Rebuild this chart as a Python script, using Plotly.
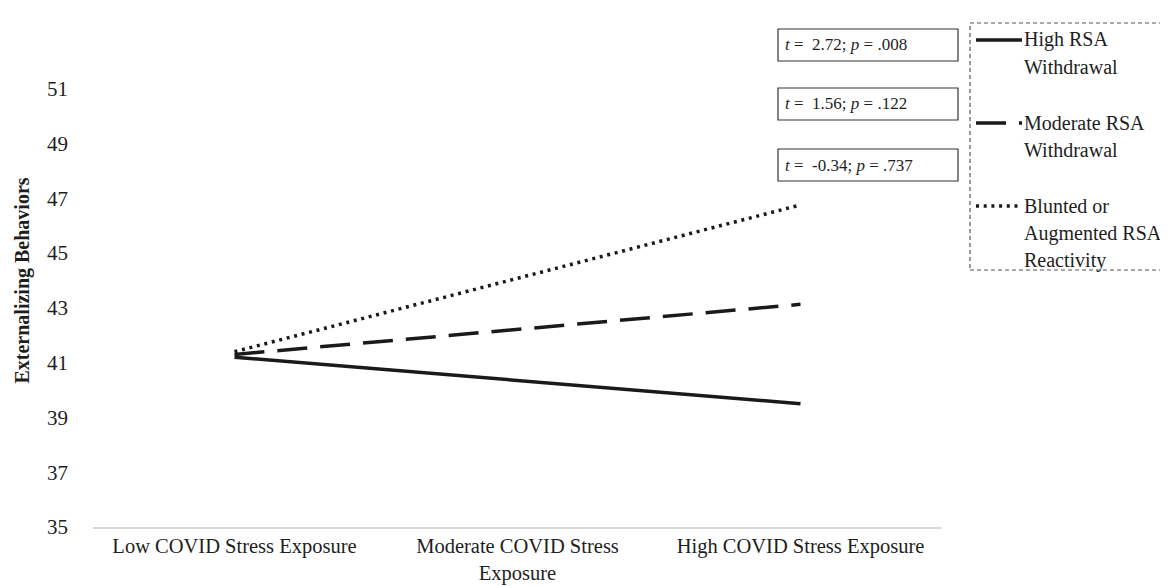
import plotly.graph_objects as go

categories = ["Low COVID Stress Exposure", "Moderate COVID Stress<br>Exposure", "High COVID Stress Exposure"]
series_names = ["High RSA Withdrawal", "Moderate RSA Withdrawal", "Blunted or Augmented RSA Reactivity"]
high_rsa = [41.2, 40.35, 39.5]
moderate_rsa = [41.3, 42.2, 43.13]
blunted_rsa = [41.4, 44.08, 46.76]
y_ticks = [35, 37, 39, 41, 43, 45, 47, 49, 51]
stat_labels = ["<i>t</i> =  2.72; <i>p</i> = .008",
               "<i>t</i> =  1.56; <i>p</i> = .122",
               "<i>t</i> =  -0.34; <i>p</i> = .737"]
legend_lines = [["High RSA", "Withdrawal"], ["Moderate RSA", "Withdrawal"],
                ["Blunted or", "Augmented RSA", "Reactivity"]]

W, H = 1168, 586
L, R, T, B = 85, 234, 26, 67
pw, ph = W - L - R, H - T - B
def px(x):
    return (x - L) / pw
def py(y):
    return (H - B - y) / ph

FONT = "Liberation Serif, Times New Roman, serif"
COL = "#1a1a1a"
TXT = "#1e1e1e"
styles = [dict(color=COL, width=3.5, dash="solid"),
          dict(color=COL, width=3.5, dash="30px,13px"),
          dict(color=COL, width=3.5, dash="3px,4.7px")]

fig = go.Figure()
xs = [0, 1, 2]
for name, vals, st in zip(series_names, [high_rsa, moderate_rsa, blunted_rsa], styles):
    fig.add_trace(go.Scatter(x=xs, y=vals, mode="lines", name=name, line=st, showlegend=False))

fig.update_layout(
    width=W, height=H,
    margin=dict(l=L, r=R, t=T, b=B, autoexpand=False),
    paper_bgcolor="white", plot_bgcolor="white",
    font=dict(family=FONT, size=21, color=TXT),
    xaxis=dict(range=[-0.5, 2.5], tickvals=xs, ticktext=categories, showgrid=False, automargin=False,
               zeroline=False, showline=True, linecolor="#d9d9d9", linewidth=1.5,
               ticks="", ticklabelstandoff=0, tickfont=dict(size=20.5, family=FONT, color=TXT)),
    yaxis=dict(range=[35, 53], tickvals=y_ticks, showgrid=False, zeroline=False, automargin=False,
               showline=False, ticks="", ticklabelstandoff=24,
               tickfont=dict(size=21, family=FONT, color=TXT),
               title=dict(text="<b>Externalizing Behaviors</b>", font=dict(size=20, family=FONT, color=TXT),
                          standoff=12)),
)

# stat boxes
box_c = [37, 96, 157]
for txt, c in zip(stat_labels, box_c):
    fig.add_shape(type="rect", xref="paper", yref="paper", x0=px(770), x1=px(950), y0=py(c + 16), y1=py(c - 16),
                  line=dict(color="#333", width=1.2), fillcolor="white")
    fig.add_annotation(xref="paper", yref="paper", x=px(775), y=py(c), xanchor="left", yanchor="middle",
                       text=txt, showarrow=False, font=dict(size=17, family=FONT, color=TXT))

# legend box
fig.add_shape(type="rect", xref="paper", yref="paper", x0=px(962), x1=px(1166), y0=py(262), y1=py(15),
              line=dict(color="#555", width=1.2, dash="4px,3px"), fillcolor="rgba(0,0,0,0)")
sample_y = [32, 115, 198]
leg_dash = ["solid", "30px,13px", "3px,4.7px"]
for lines, sy, d in zip(legend_lines, sample_y, leg_dash):
    fig.add_shape(type="line", xref="paper", yref="paper", x0=px(968), x1=px(1014), y0=py(sy), y1=py(sy),
                  line=dict(color=COL, width=3.5, dash=d))
    for i, ln in enumerate(lines):
        fig.add_annotation(xref="paper", yref="paper", x=px(1014), y=py(sy + 27 * i), xanchor="left",
                           yanchor="middle", text=ln, showarrow=False, align="left",
                           font=dict(size=20, family=FONT, color=TXT))

fig.write_html("out.html")
